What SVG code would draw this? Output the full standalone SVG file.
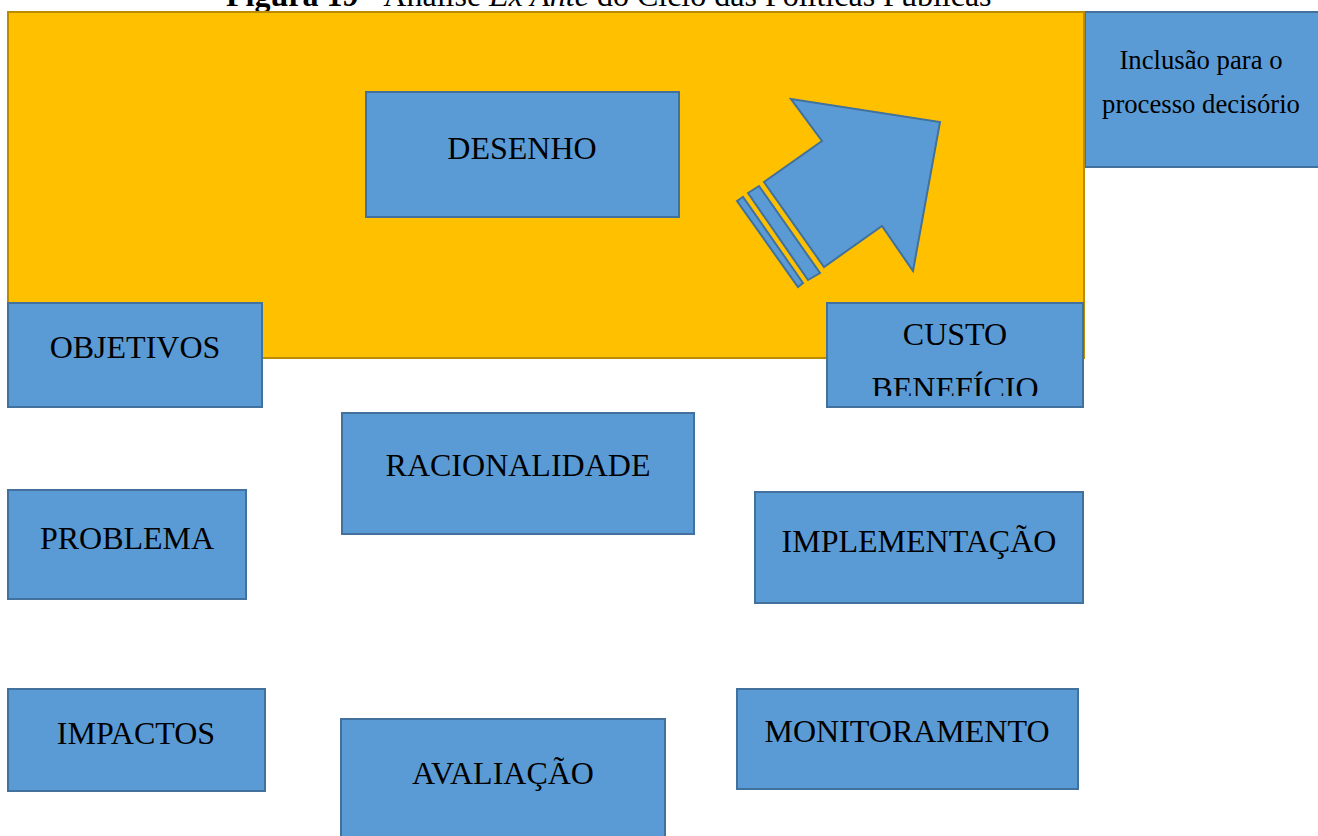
<svg xmlns="http://www.w3.org/2000/svg" width="1318" height="836" viewBox="0 0 1318 836">
<defs>
<style>
.box{fill:#5B9BD5;stroke:#41719C;stroke-width:2}
.bg{fill:#FFC000;stroke:#BC8C00;stroke-width:2}
.lbl{font-family:"Liberation Serif","Times New Roman",serif;font-size:32px;fill:#000;text-anchor:middle}
.sm{font-family:"Liberation Serif","Times New Roman",serif;font-size:26.7px;fill:#000;text-anchor:middle}
.title{font-family:"Liberation Serif","Times New Roman",serif;font-size:32px;fill:#000}
</style>
<clipPath id="clipCusto"><rect x="828" y="304" width="254" height="92"/></clipPath>
</defs>
<rect width="1318" height="836" fill="#fff"/>
<text class="title" x="226" y="6"><tspan font-weight="bold">Figura 19</tspan> - Análise <tspan font-style="italic">Ex Ante</tspan> do Ciclo das Políticas Públicas</text>
<g id="inclusao">
<rect class="box" x="1085" y="12" width="240" height="155"/>
<text class="sm" x="1201" y="69">Inclusão para o</text>
<text class="sm" x="1201" y="113">processo decisório</text>
</g>
<g id="fundo">
<rect class="bg" x="8" y="12" width="1076" height="346"/>
</g>
<g id="desenho">
<rect class="box" x="366" y="92" width="313" height="125"/>
<text class="lbl" x="522" y="159">DESENHO</text>
</g>
<g id="connectors">
<polygon class="box" points="791,99 940,122 913,271 882,226 824,267 764,182 822,141"/>
<polygon class="box" points="748,193 759,186 820,273 808,280"/>
<polygon class="box" points="737,201 743,197 803,283 798,287"/>
</g>
<g id="objetivos">
<rect class="box" x="8" y="303" width="254" height="104"/>
<text class="lbl" x="135" y="358">OBJETIVOS</text>
</g>
<g id="custo">
<rect class="box" x="827" y="303" width="256" height="104"/>
<g clip-path="url(#clipCusto)">
<text class="lbl" x="955" y="345">CUSTO</text>
<text class="lbl" x="955" y="399">BENEFÍCIO</text>
</g>
</g>
<g id="racionalidade">
<rect class="box" x="342" y="413" width="352" height="121"/>
<text class="lbl" x="518" y="476">RACIONALIDADE</text>
</g>
<g id="problema">
<rect class="box" x="8" y="490" width="238" height="109"/>
<text class="lbl" x="127" y="549">PROBLEMA</text>
</g>
<g id="implementacao">
<rect class="box" x="755" y="492" width="328" height="111"/>
<text class="lbl" x="919" y="552">IMPLEMENTAÇÃO</text>
</g>
<g id="impactos">
<rect class="box" x="8" y="689" width="257" height="102"/>
<text class="lbl" x="136" y="744">IMPACTOS</text>
</g>
<g id="avaliacao">
<rect class="box" x="341" y="719" width="324" height="130"/>
<text class="lbl" x="503" y="784">AVALIAÇÃO</text>
</g>
<g id="monitoramento">
<rect class="box" x="737" y="689" width="341" height="100"/>
<text class="lbl" x="907" y="742">MONITORAMENTO</text>
</g>
</svg>
